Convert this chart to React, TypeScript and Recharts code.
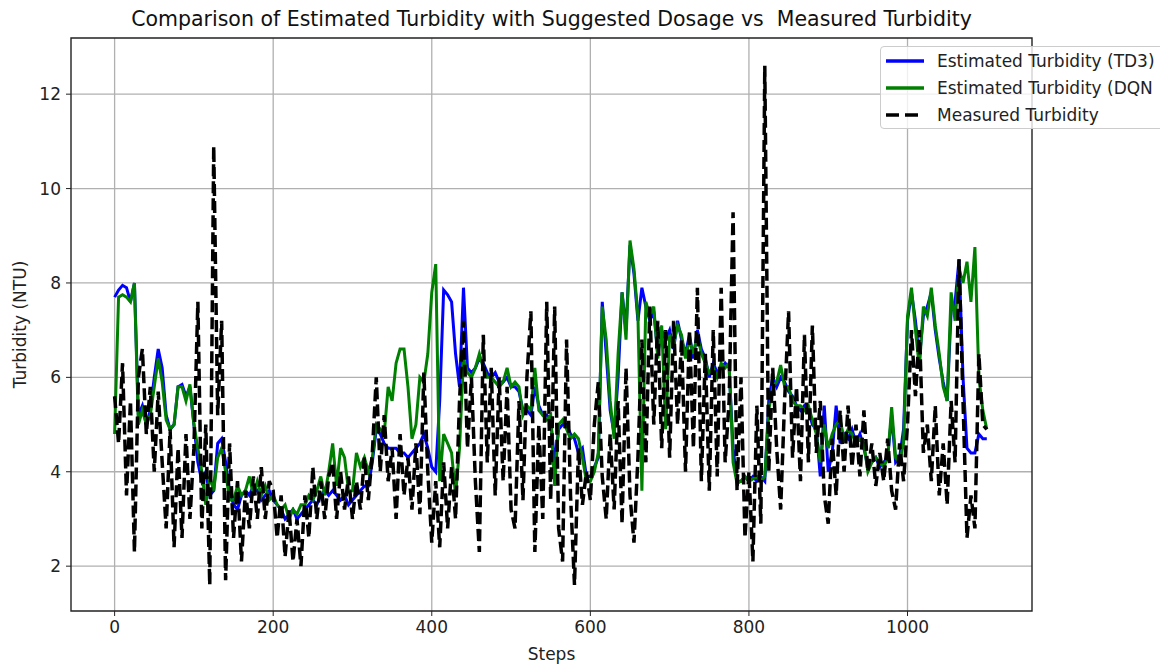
import React from 'react';
import {
  LineChart,
  Line,
  XAxis,
  YAxis,
  CartesianGrid,
  ReferenceArea,
} from 'recharts';

// x ticks / y ticks
const xTicks = [0, 200, 400, 600, 800, 1000];
const yTicks = [2, 4, 6, 8, 10, 12];

// estimated turbidity, TD3 dosage (one value every 5 steps)
const td3 = [
  7.7, 7.85, 7.95, 7.9, 7.6, 8.0, 5.2, 5.4, 5.0, 5.3, 6.0, 6.6, 6.2, 5.2, 4.9, 5.0, 5.8, 5.85, 5.6, 5.8,
  5.0, 4.2, 3.8, 4.0, 3.5, 3.6, 4.6, 4.7, 4.2, 3.6, 3.3, 3.2, 3.5, 3.6, 3.5, 3.7, 3.6, 3.4, 3.5, 3.6,
  3.4, 3.3, 3.2, 3.0, 3.1, 3.2, 3.0, 3.1, 3.2, 3.3, 3.4, 3.3, 3.5, 3.6, 3.5, 3.6, 3.5, 3.4, 3.5, 3.3,
  3.4, 3.5, 3.6, 3.7, 3.7, 4.2, 4.9, 4.8, 4.6, 4.5, 4.5, 4.5, 4.4, 4.4, 4.3, 4.4, 4.5, 4.6, 4.8, 4.5,
  4.1, 4.0, 5.5, 7.85, 7.75, 7.6, 6.5, 5.8, 7.9, 6.2, 6.1, 6.2, 6.4, 6.3, 6.1, 6.0, 6.1, 5.9, 5.9, 6.0,
  5.8, 5.8, 5.7, 5.3, 5.3, 5.2, 5.8, 5.4, 5.2, 5.2, 5.1, 4.2, 4.9, 5.0, 5.0, 4.8, 4.7, 4.4, 4.5, 3.9,
  3.9, 4.1, 4.3, 7.6, 6.5, 5.3, 4.8, 6.0, 7.8, 7.0, 8.8, 8.2, 7.2, 7.9, 7.5, 7.2, 7.4, 6.5, 7.0, 6.8,
  7.0, 6.6, 7.2, 6.8, 6.5, 6.9, 6.4, 7.0, 6.6, 6.4, 6.0, 6.3, 6.1, 6.2, 6.3, 6.2, 4.5, 3.8, 3.8, 3.9,
  3.8, 3.9, 3.8, 3.9, 3.8, 5.5, 6.0, 5.8, 6.0, 5.9, 5.7, 5.6, 5.4, 5.3, 5.4, 5.3, 5.0, 4.9, 3.9, 5.4,
  4.0, 4.4, 5.4, 4.6, 4.8, 4.7, 4.9, 4.6, 4.8, 4.5, 4.1, 4.2, 4.3, 4.1, 4.2, 4.3, 5.2, 4.2, 4.3, 4.9,
  7.2, 7.8, 7.2, 6.4, 7.3, 7.5, 7.8, 7.0, 6.4, 5.9, 5.5, 7.4, 7.6, 8.5, 6.0, 4.5, 4.4, 4.4, 4.8, 4.7,
  4.7,
];

// estimated turbidity, DQN dosage
const dqn = [
  4.8, 7.7, 7.75, 7.7, 7.6, 8.0, 5.0, 5.3, 5.0, 5.2, 5.8, 6.4, 5.9, 5.1, 4.9, 5.0, 5.8, 5.8, 5.5, 5.85,
  5.0, 4.5, 4.0, 3.3, 3.9, 3.6, 4.3, 4.5, 4.0, 3.4, 3.4, 3.7, 3.5, 3.6, 3.9, 3.5, 3.8, 3.5, 3.7, 3.4,
  3.5, 3.3, 3.2, 3.3, 3.0, 3.2, 3.1, 3.3, 3.3, 3.5, 3.4, 3.6, 3.9, 3.5, 4.0, 4.6, 3.7, 4.5, 4.3, 3.6,
  3.6, 4.4, 4.1, 4.3, 4.0, 4.3, 5.0, 4.9, 4.8, 5.8, 5.5, 6.3, 6.6, 6.6, 5.8, 4.7, 5.0, 6.0, 5.9, 6.5,
  7.8, 8.4, 3.8, 4.8, 4.6, 4.4, 3.5, 4.5, 6.4, 6.1, 6.0, 6.2, 6.5, 6.2, 6.0, 6.0, 5.9, 5.8, 5.9, 6.2,
  5.8, 5.9, 5.8, 5.2, 5.4, 5.3, 6.2, 5.3, 5.2, 5.1, 5.2, 3.7, 5.0, 5.1, 4.9, 4.7, 4.8, 4.7, 4.3, 3.8,
  3.8, 4.0, 4.4, 7.5, 6.8, 5.5, 4.7, 6.5, 7.8, 6.8, 8.9, 8.3, 7.3, 3.6, 7.6, 7.3, 7.5, 6.4, 7.1, 4.9,
  6.9, 6.7, 7.1, 6.9, 6.4, 6.8, 6.5, 6.9, 6.5, 6.3, 6.1, 6.2, 6.0, 6.3, 6.2, 6.3, 4.2, 3.75, 3.8, 3.9,
  3.8, 3.85, 3.9, 3.8, 3.9, 5.3, 5.8, 5.9, 6.26, 5.8, 5.8, 5.5, 5.4, 5.4, 5.3, 5.4, 5.1, 4.8, 4.2, 5.0,
  4.5, 4.8, 5.0, 5.1, 4.7, 4.9, 4.8, 4.6, 4.7, 4.6, 4.0, 4.2, 4.3, 4.2, 4.1, 4.3, 5.37, 4.3, 4.2, 4.6,
  7.3, 7.9, 7.0, 6.2, 7.5, 7.3, 7.9, 7.1, 6.5, 5.8, 5.5, 7.8, 7.2, 8.3, 8.0, 8.45, 7.6, 8.76, 6.0, 5.3,
  4.9,
];

// measured turbidity
const measured = [
  5.6, 4.6, 6.3, 3.5, 5.5, 2.3, 6.0, 6.6, 4.8, 5.8, 4.0, 5.7, 4.2, 2.8, 4.9, 2.4, 4.5, 2.6, 4.8, 3.0,
  4.5, 7.6, 2.8, 5.0, 1.6, 10.9, 5.2, 7.2, 1.7, 4.6, 2.6, 3.8, 2.1, 3.6, 2.8, 3.9, 3.0, 4.1, 3.0, 3.8,
  3.6, 2.6, 3.5, 2.2, 3.2, 2.1, 3.0, 2.0, 3.5, 2.6, 4.1, 3.0, 3.8, 3.0, 3.9, 4.2, 3.0, 4.0, 3.2, 3.9,
  3.0, 3.8, 3.2, 4.3, 3.4, 4.4, 6.0, 4.0, 5.2, 3.8, 4.5, 3.0, 4.8, 3.5, 4.3, 3.2, 4.6, 3.1, 6.1, 4.0,
  2.5, 3.8, 2.4, 4.2, 2.8, 4.1, 3.0, 5.5, 7.2, 4.5, 6.0, 3.8, 2.3, 6.9, 4.2, 6.2, 3.5, 6.0, 3.8, 5.8,
  3.2, 2.8, 5.5, 3.4, 6.0, 7.4, 2.3, 5.0, 3.0, 7.6, 3.4, 7.5, 2.8, 2.1, 6.8, 3.5, 1.6, 4.5, 3.3, 4.0,
  3.4, 5.0, 5.9, 3.9, 3.0, 4.8, 3.2, 5.5, 2.9, 6.2, 3.5, 2.5, 4.3, 6.8, 4.2, 7.5, 5.0, 7.2, 4.5, 7.0,
  4.3, 7.2, 5.0, 6.8, 4.0, 7.0, 4.5, 7.9, 3.8, 6.5, 3.6, 7.0, 3.9, 7.9, 4.2, 5.5, 9.5, 3.6, 6.0, 2.6,
  4.0, 2.1, 5.4, 2.9, 12.6, 4.0, 6.2, 4.5, 3.2, 5.5, 7.4, 4.3, 5.8, 3.8, 6.9, 4.2, 7.1, 4.4, 5.5, 3.5,
  2.9, 4.7, 3.5, 5.3, 4.0, 5.4, 4.1, 5.0, 3.9, 5.3, 4.0, 4.6, 3.7, 4.4, 3.8, 4.7, 3.6, 3.2, 4.6, 3.8,
  5.0, 7.0, 5.6, 7.0, 4.4, 5.0, 3.8, 5.4, 3.5, 4.6, 3.3, 5.5, 4.2, 8.5, 5.5, 2.6, 3.5, 2.8, 6.5, 5.0,
  4.9,
];

const STEP = 5;
const data = td3.map((v, i) => ({
  step: i * STEP,
  td3: v,
  dqn: dqn[i],
  measured: measured[i],
}));

const FONT = '"DejaVu Sans", sans-serif';
const X_DOMAIN: [number, number] = [-55, 1157];
const Y_DOMAIN: [number, number] = [1.05, 13.19];

const legendItems = [
  { label: 'Estimated Turbidity (TD3)', color: '#0000ff', dash: false },
  { label: 'Estimated Turbidity (DQN', color: '#008000', dash: false },
  { label: 'Measured Turbidity', color: '#000000', dash: true },
];

const App: React.FC = () => {
  return (
    <div
      style={{
        position: 'absolute',
        left: 0,
        top: 0,
        width: 1160,
        height: 666,
        overflow: 'hidden',
        background: '#fff',
        fontFamily: FONT,
      }}
    >
      <div
        style={{
          position: 'absolute',
          top: 6,
          left: 71,
          width: 961,
          textAlign: 'center',
          fontSize: 20.5,
          lineHeight: '26px',
          color: '#111',
          whiteSpace: 'pre',
        }}
      >
        Comparison of Estimated Turbidity with Suggested Dosage vs  Measured Turbidity
      </div>

      <LineChart
        width={1160}
        height={666}
        data={data}
        margin={{ top: 38, right: 128, left: 0, bottom: 0 }}
      >
        <CartesianGrid stroke="#b0b0b0" strokeWidth={1.3} verticalValues={xTicks} horizontalValues={yTicks} />
        <XAxis
          dataKey="step"
          type="number"
          domain={X_DOMAIN}
          ticks={xTicks}
          allowDataOverflow
          height={55}
          tickSize={5}
          tickMargin={5}
          stroke="#222"
          tick={{ fill: '#222', fontSize: 17, fontFamily: FONT }}
          axisLine={false}
          label={{ value: 'Steps', position: 'insideBottom', offset: 6, fill: '#222', fontSize: 17, fontFamily: FONT }}
        />
        <YAxis
          type="number"
          domain={Y_DOMAIN}
          ticks={yTicks}
          allowDataOverflow
          width={71}
          tickSize={5}
          tickMargin={5}
          stroke="#222"
          tick={{ fill: '#222', fontSize: 17, fontFamily: FONT }}
          axisLine={false}
          label={{
            value: 'Turbidity (NTU)',
            angle: -90,
            position: 'insideLeft',
            offset: 20,
            fill: '#222',
            fontSize: 17,
            fontFamily: FONT,
            style: { textAnchor: 'middle' },
          }}
        />
        <Line type="linear" dataKey="td3" stroke="#0000ff" strokeWidth={3} dot={false} isAnimationActive={false} />
        <Line type="linear" dataKey="dqn" stroke="#008000" strokeWidth={3} dot={false} isAnimationActive={false} />
        <Line
          type="linear"
          dataKey="measured"
          stroke="#000000"
          strokeWidth={3.5}
          strokeDasharray="12 5"
          dot={false}
          isAnimationActive={false}
        />
        <ReferenceArea
          x1={X_DOMAIN[0]}
          x2={X_DOMAIN[1]}
          y1={Y_DOMAIN[0]}
          y2={Y_DOMAIN[1]}
          fill="none"
          fillOpacity={0}
          stroke="#222"
          strokeWidth={1.4}
          ifOverflow="visible"
        />
      </LineChart>

      <div
        style={{
          position: 'absolute',
          left: 880,
          top: 46,
          width: 300,
          height: 83,
          border: '1px solid #cccccc',
          borderRadius: 4,
          background: 'rgba(255,255,255,0.8)',
          boxSizing: 'border-box',
        }}
      >
        {legendItems.map((it, i) => (
          <div
            key={it.label}
            style={{ position: 'absolute', left: 5, top: 2 + i * 27, height: 24, display: 'flex', alignItems: 'center' }}
          >
            <svg width={38} height={6} style={{ marginRight: 13 }}>
              <line
                x1={0}
                y1={3}
                x2={38}
                y2={3}
                stroke={it.color}
                strokeWidth={3.5}
                strokeDasharray={it.dash ? '13 6' : undefined}
              />
            </svg>
            <span style={{ fontSize: 17, color: '#222', whiteSpace: 'nowrap' }}>{it.label}</span>
          </div>
        ))}
      </div>
    </div>
  );
};

export default App;
